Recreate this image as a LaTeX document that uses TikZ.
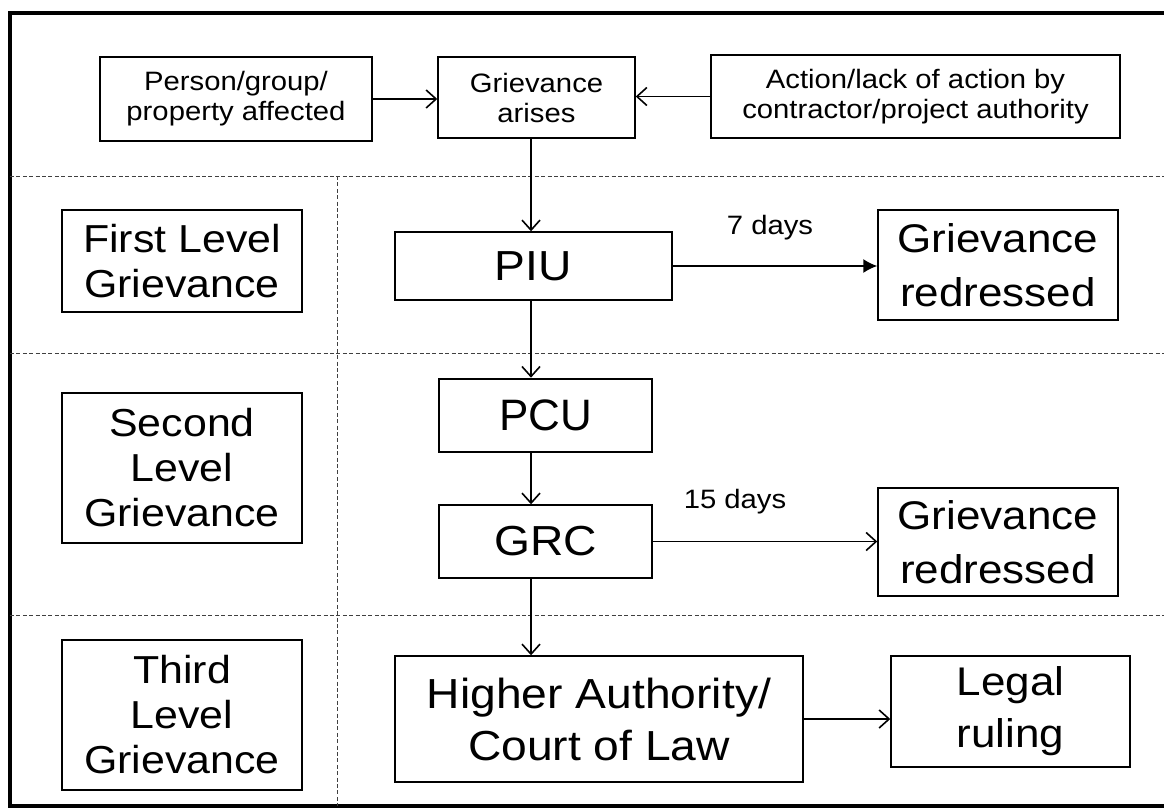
\documentclass[tikz,border=0pt]{standalone}
\usepackage{fontspec}
\setmainfont{Liberation Sans}[FakeStretch=1.1]
\newfontfamily\pcufont{Liberation Sans}
\usepackage{tikz}
\usetikzlibrary{arrows.meta,positioning,calc}

\begin{document}
\begin{tikzpicture}[
  x=0.5pt, y=-0.5pt,
  smallbox/.style={rectangle, draw, line width=0.7pt, align=center, inner sep=0pt, font=\fontsize{13.3pt}{15pt}\selectfont},
  levelbox/.style={rectangle, draw, line width=0.7pt, align=center, inner sep=0pt, minimum width=120pt, font=\fontsize{19.5pt}{22.5pt}\selectfont},
  stepbox/.style={rectangle, draw, line width=0.7pt, align=center, inner sep=0pt, font=\fontsize{21pt}{26pt}\selectfont},
  levelline/.style={black!75, line width=0.5pt, dash pattern=on 2pt off 1.2pt},
  frame/.style={line width=2pt},
  daylabel/.style={font=\fontsize{13.3pt}{14.5pt}\selectfont},
  >={Straight Barb[length=5pt,width=9pt]}, line width=0.8pt
]
\useasboundingbox (0,0) rectangle (1164,809);

% Outer frame
\draw[frame] (1180,13) -- (10,13) -- (10,806) -- (1180,806);

% Level separators
\draw[levelline] (10,176) -- (1164,176);
\draw[levelline] (10,353) -- (1164,353);
\draw[levelline] (10,615) -- (1164,615);
\draw[levelline] (337,176) -- (337,806);

% Top row
\node[smallbox, minimum width=136pt, minimum height=42pt] (person) at (236,99) {Person/group/\\property affected};
\node[smallbox, minimum width=98.5pt, minimum height=40.5pt] (griev) at (536.5,97.5) {Grievance\\arises};
\node[smallbox, minimum width=204.5pt, minimum height=41.5pt] (action) at (915.5,96.5) {Action/lack of action by\\contractor/project authority};

% Level labels
\node[levelbox, minimum height=51pt] (first) at (182,261) {First Level\\Grievance};
\node[levelbox, minimum height=75pt] (second) at (182,468) {Second\\Level\\Grievance};
\node[levelbox, minimum height=75pt] (third) at (182,715) {Third\\Level\\Grievance};

% Main steps
\node[stepbox, minimum width=138.5pt, minimum height=34pt] (piu) at (533.5,266) {PIU};
\node[rectangle, draw, line width=1.3pt, inner sep=0pt, minimum width=106.5pt, minimum height=36.5pt,
  font=\pcufont\fontsize{22pt}{24pt}\selectfont] (pcu) at (545.5,415.5) {PCU};
\node[stepbox, minimum width=106.5pt, minimum height=36.5pt] (grc) at (545.5,541.5) {GRC};
\node[stepbox, minimum width=204pt, minimum height=63pt] (higher) at (599,719) {Higher Authority/\\Court of Law};

% Outcomes
\node[stepbox, minimum width=120pt, minimum height=55pt, font=\fontsize{20pt}{27pt}\selectfont] (redress1) at (998,265) {Grievance\\redressed};
\node[stepbox, minimum width=120pt, minimum height=54pt, font=\fontsize{20pt}{27pt}\selectfont] (redress2) at (998,542) {Grievance\\redressed};
\node[stepbox, minimum width=119.5pt, minimum height=55.5pt, font=\fontsize{20pt}{26pt}\selectfont] (legal) at (1010.5,711.5) {Legal\\ruling};

\node[daylabel] (days7) at (770,228) {7 days};
\node[daylabel] (days15) at (735,502) {15 days};

% Inputs into grievance
\draw[->] (person.east) -- (person.east -| griev.west);
\draw[->] (action.west) -- (action.west -| griev.east);

% Escalation path
\coordinate (spine) at (531,0);
\draw[->] (griev.south -| spine) -- (piu.north -| spine);
\draw[->] (piu.south -| spine) -- (pcu.north -| spine);
\draw[->] (pcu.south -| spine) -- (grc.north -| spine);
\draw[->] (grc.south -| spine) -- (higher.north -| spine);

% Outcomes
\draw[-{Latex[length=7pt,width=7pt]}] (piu.east) -- (piu.east -| redress1.west);
\draw[->] (grc.east) -- (grc.east -| redress2.west);
\draw[->] (higher.east) -- (higher.east -| legal.west);

\end{tikzpicture}
\end{document}
